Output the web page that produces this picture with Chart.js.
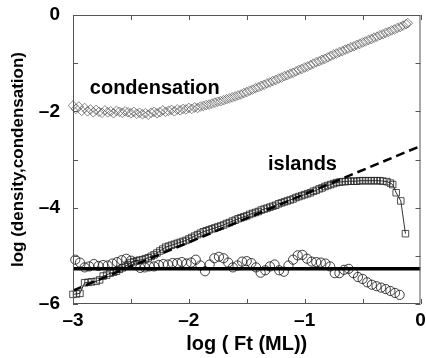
<!DOCTYPE html>
<html>
<head>
<meta charset="utf-8">
<script src="https://cdn.jsdelivr.net/npm/chart.js@4/dist/chart.umd.min.js"></script>
<style>
html,body{margin:0;padding:0;background:#fff;overflow:hidden;}
#wrap{width:426px;height:358px;position:relative;}
</style>
</head>
<body>
<div id="wrap"><canvas id="c"></canvas></div>
<script>
// ---- data ----
const condX = [-3.000,-2.975,-2.950,-2.925,-2.900,-2.875,-2.850,-2.825,-2.800,-2.775,-2.750,-2.725,-2.700,-2.675,-2.650,-2.625,-2.600,-2.575,-2.550,-2.525,-2.500,-2.475,-2.450,-2.425,-2.400,-2.375,-2.350,-2.325,-2.300,-2.275,-2.250,-2.225,-2.200,-2.175,-2.150,-2.125,-2.100,-2.075,-2.050,-2.025,-2.000,-1.975,-1.950,-1.925,-1.900,-1.875,-1.850,-1.825,-1.800,-1.775,-1.750,-1.725,-1.700,-1.675,-1.650,-1.625,-1.600,-1.575,-1.550,-1.525,-1.500,-1.475,-1.450,-1.425,-1.400,-1.375,-1.350,-1.325,-1.300,-1.275,-1.250,-1.225,-1.200,-1.175,-1.150,-1.125,-1.100,-1.075,-1.050,-1.025,-1.000,-0.975,-0.950,-0.925,-0.900,-0.875,-0.850,-0.825,-0.800,-0.775,-0.750,-0.725,-0.700,-0.675,-0.650,-0.625,-0.600,-0.575,-0.550,-0.525,-0.500,-0.475,-0.450,-0.425,-0.400,-0.375,-0.350,-0.325,-0.300,-0.275,-0.250,-0.225,-0.200,-0.175,-0.150,-0.125,-0.110];
const condY = [-1.88,-1.95,-1.90,-1.99,-1.93,-2.00,-1.96,-2.02,-1.97,-2.01,-2.03,-1.98,-2.02,-2.00,-2.04,-1.99,-2.01,-2.03,-2.00,-2.02,-2.04,-2.01,-2.05,-2.03,-2.06,-2.04,-2.07,-2.03,-2.01,-2.04,-2.02,-1.98,-2.01,-1.99,-1.97,-2.00,-1.96,-1.98,-1.95,-1.96,-1.93,-1.95,-1.92,-1.93,-1.90,-1.89,-1.87,-1.86,-1.84,-1.82,-1.80,-1.79,-1.77,-1.75,-1.73,-1.71,-1.69,-1.67,-1.65,-1.62,-1.60,-1.57,-1.55,-1.52,-1.50,-1.47,-1.45,-1.42,-1.40,-1.37,-1.35,-1.32,-1.30,-1.27,-1.25,-1.22,-1.20,-1.17,-1.14,-1.12,-1.09,-1.07,-1.04,-1.01,-0.98,-0.96,-0.93,-0.91,-0.88,-0.85,-0.82,-0.80,-0.77,-0.75,-0.72,-0.70,-0.67,-0.65,-0.62,-0.60,-0.57,-0.55,-0.52,-0.50,-0.47,-0.45,-0.42,-0.40,-0.37,-0.35,-0.32,-0.30,-0.27,-0.25,-0.22,-0.19,-0.17];

const islX = [-3.000,-2.970,-2.940,-2.900,-2.870,-2.840,-2.800,-2.770,-2.740,-2.710,-2.680,-2.650,-2.625,-2.600,-2.575,-2.550,-2.525,-2.500,-2.475,-2.450,-2.425,-2.400,-2.375,-2.350,-2.325,-2.300,-2.275,-2.250,-2.225,-2.200,-2.175,-2.150,-2.125,-2.100,-2.075,-2.050,-2.025,-2.000,-1.975,-1.950,-1.925,-1.900,-1.875,-1.850,-1.825,-1.800,-1.775,-1.750,-1.725,-1.700,-1.675,-1.650,-1.625,-1.600,-1.575,-1.550,-1.525,-1.500,-1.475,-1.450,-1.425,-1.400,-1.375,-1.350,-1.325,-1.300,-1.275,-1.250,-1.225,-1.200,-1.175,-1.150,-1.125,-1.100,-1.075,-1.050,-1.025,-1.000,-0.975,-0.950,-0.925,-0.900,-0.875,-0.850,-0.825,-0.800,-0.775,-0.750,-0.725,-0.700,-0.675,-0.650,-0.625,-0.600,-0.575,-0.550,-0.525,-0.500,-0.475,-0.450,-0.425,-0.400,-0.375,-0.350,-0.325,-0.290,-0.260,-0.240,-0.210,-0.170,-0.130];
const islY = [-5.80,-5.79,-5.78,-5.56,-5.55,-5.54,-5.53,-5.50,-5.42,-5.40,-5.36,-5.34,-5.32,-5.28,-5.25,-5.22,-5.18,-5.14,-5.12,-5.10,-5.09,-5.08,-5.06,-5.04,-5.01,-4.98,-4.94,-4.90,-4.86,-4.82,-4.80,-4.78,-4.76,-4.74,-4.72,-4.70,-4.68,-4.65,-4.62,-4.59,-4.56,-4.53,-4.50,-4.48,-4.46,-4.44,-4.42,-4.40,-4.38,-4.36,-4.33,-4.31,-4.28,-4.26,-4.23,-4.21,-4.19,-4.17,-4.14,-4.12,-4.10,-4.08,-4.05,-4.03,-4.01,-3.99,-3.97,-3.95,-3.92,-3.90,-3.88,-3.86,-3.84,-3.82,-3.79,-3.77,-3.75,-3.73,-3.71,-3.69,-3.66,-3.64,-3.61,-3.59,-3.56,-3.54,-3.52,-3.50,-3.48,-3.47,-3.46,-3.46,-3.45,-3.45,-3.45,-3.45,-3.44,-3.44,-3.44,-3.44,-3.44,-3.44,-3.44,-3.44,-3.45,-3.46,-3.49,-3.52,-3.69,-3.86,-4.54];

const circX = [-2.98,-2.94,-2.90,-2.86,-2.82,-2.78,-2.74,-2.70,-2.66,-2.62,-2.58,-2.54,-2.50,-2.46,-2.42,-2.38,-2.34,-2.30,-2.26,-2.22,-2.18,-2.14,-2.10,-2.06,-2.02,-1.98,-1.94,-1.90,-1.86,-1.82,-1.78,-1.74,-1.70,-1.66,-1.62,-1.58,-1.54,-1.50,-1.46,-1.42,-1.38,-1.34,-1.30,-1.26,-1.22,-1.18,-1.14,-1.10,-1.06,-1.02,-0.98,-0.94,-0.90,-0.86,-0.82,-0.78,-0.74,-0.70,-0.66,-0.62,-0.58,-0.54,-0.50,-0.46,-0.42,-0.38,-0.34,-0.30,-0.26,-0.22,-0.18];
const circY = [-5.08,-5.14,-5.24,-5.22,-5.17,-5.21,-5.19,-5.20,-5.16,-5.13,-5.09,-5.06,-5.10,-5.19,-5.25,-5.24,-5.22,-5.22,-5.19,-5.17,-5.18,-5.15,-5.15,-5.13,-5.16,-5.14,-5.08,-5.20,-5.32,-5.18,-5.05,-5.02,-5.05,-5.14,-5.24,-5.20,-5.12,-5.11,-5.15,-5.24,-5.35,-5.30,-5.22,-5.18,-5.30,-5.33,-5.20,-5.08,-4.99,-4.98,-5.06,-5.12,-5.13,-5.14,-5.16,-5.22,-5.36,-5.36,-5.29,-5.27,-5.36,-5.44,-5.48,-5.55,-5.60,-5.63,-5.66,-5.69,-5.73,-5.77,-5.81];

const fitX = [-3, 0];
const fitY = [-5.72, -2.72];
const flatX = [-3, 0];
const flatY = [-5.27, -5.27];

const xTickLabels = [-3, -2, -1, 0];
const yTickLabels = [-6, -4, -2, 0];
const xTickMarks = [-3, -2.5, -2, -1.5, -1, -0.5, 0];
const yTickMarks = [-6, -5, -4, -3, -2, -1, 0];

const notes = [
  {text: 'condensation', x: -2.855, y: -1.64},
  {text: 'islands', x: -1.316, y: -3.21}
];

const pts = (xs, ys) => xs.map((v, i) => ({x: v, y: ys[i]}));
const dash = v => (v < 0 ? '\u2013' + Math.abs(v) : String(v));

const frameTicks = {
  id: 'frameTicks',
  afterDatasetsDraw(chart) {
    const {ctx, chartArea: a, scales} = chart;
    const sx = scales.x, sy = scales.y;
    ctx.save();
    ctx.strokeStyle = '#555';
    ctx.lineWidth = 1;
    ctx.beginPath();
    ctx.rect(a.left + 0.5, a.top + 0.5, a.right - a.left - 1, a.bottom - a.top - 1);
    xTickMarks.forEach(v => {
      const p = Math.round(sx.getPixelForValue(v)) + 0.5;
      ctx.moveTo(p, a.bottom); ctx.lineTo(p, a.bottom - 5);
      ctx.moveTo(p, a.top); ctx.lineTo(p, a.top + 5);
    });
    yTickMarks.forEach(v => {
      const p = Math.round(sy.getPixelForValue(v)) + 0.5;
      ctx.moveTo(a.left, p); ctx.lineTo(a.left + 5, p);
      ctx.moveTo(a.right, p); ctx.lineTo(a.right - 5, p);
    });
    ctx.stroke();
    ctx.fillStyle = '#000';
    ctx.font = 'bold 20px "Liberation Sans", Arial, sans-serif';
    ctx.textAlign = 'left';
    ctx.textBaseline = 'alphabetic';
    notes.forEach(n => ctx.fillText(n.text, sx.getPixelForValue(n.x), sy.getPixelForValue(n.y)));
    ctx.restore();
  }
};

const tickFont = {family: '"Liberation Sans", Arial, sans-serif', size: 19, weight: 'bold'};

new Chart(document.getElementById('c'), {
  type: 'scatter',
  data: {
    datasets: [
      {label: 'flat', data: pts(flatX, flatY), showLine: true, borderColor: '#000', borderWidth: 3.5, pointRadius: 0, order: 0},
      {label: 'fit', data: pts(fitX, fitY), showLine: true, borderColor: '#000', borderWidth: 2.5, borderDash: [9, 5], pointRadius: 0, order: 1},
      {label: 'islands', data: pts(islX, islY), showLine: true, borderColor: '#000', borderWidth: 0.8, pointStyle: 'rect', pointRadius: 4.6, pointBorderWidth: 0.8, pointBorderColor: '#222', pointBackgroundColor: 'rgba(0,0,0,0)', order: 2, clip: 8},
      {label: 'circles', data: pts(circX, circY), showLine: false, pointStyle: 'circle', pointRadius: 4.6, pointBorderWidth: 0.8, pointBorderColor: '#111', pointBackgroundColor: 'rgba(0,0,0,0)', order: 3, clip: 8},
      {label: 'condensation', data: pts(condX, condY), showLine: false, pointStyle: 'rectRot', pointRadius: 4.8, pointBorderWidth: 0.7, pointBorderColor: '#555', pointBackgroundColor: 'rgba(0,0,0,0)', order: 4, clip: 8}
    ]
  },
  options: {
    responsive: true,
    maintainAspectRatio: false,
    animation: false,
    layout: {padding: {top: 15, right: 2, left: 0, bottom: 0}},
    plugins: {legend: {display: false}, tooltip: {enabled: false}},
    scales: {
      x: {
        type: 'linear', min: -3, max: 0,
        grid: {display: false, drawTicks: false},
        border: {display: false},
        afterBuildTicks: s => { s.ticks = xTickLabels.map(v => ({value: v})); },
        ticks: {font: tickFont, color: '#000', padding: 5, maxRotation: 0, callback: v => dash(v)},
        title: {display: true, text: 'log ( Ft (ML))', color: '#000', font: {family: '"Liberation Sans", Arial, sans-serif', size: 20, weight: 'bold'}, padding: {top: 0, bottom: 2}},
        afterFit: s => { s.height = 54; s.paddingLeft = 0; s.paddingRight = 0; }
      },
      y: {
        type: 'linear', min: -6, max: 0,
        grid: {display: false, drawTicks: false},
        border: {display: false},
        afterBuildTicks: s => { s.ticks = yTickLabels.map(v => ({value: v})); },
        ticks: {font: tickFont, color: '#000', padding: 13, callback: v => dash(v)},
        title: {display: true, text: 'log (density,condensation)', color: '#000', font: {family: '"Liberation Sans", Arial, sans-serif', size: 17, weight: 'bold'}, padding: {top: 8, bottom: 0}},
        afterFit: s => { s.width = 73; s.paddingTop = 0; s.paddingBottom = 0; }
      }
    }
  },
  plugins: [frameTicks]
});
</script>
</body>
</html>
